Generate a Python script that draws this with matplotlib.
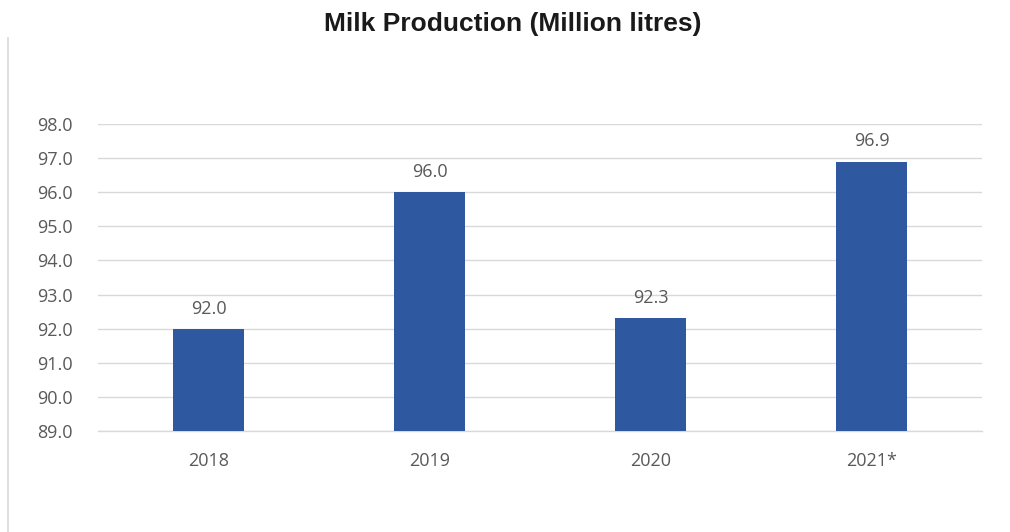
import matplotlib
matplotlib.use("Agg")
import matplotlib.pyplot as plt
from matplotlib.lines import Line2D

years = ["2018", "2019", "2020", "2021*"]
production = [92.0, 96.0, 92.3, 96.9]
y_ticks = [89.0, 90.0, 91.0, 92.0, 93.0, 94.0, 95.0, 96.0, 97.0, 98.0]

bar_color = "#2E59A1"
text_gray = "#595959"
grid_gray = "#D9D9D9"
label_font = "Open Sans"
label_size = 13

fig = plt.figure(figsize=(10.1, 5.32), dpi=100)
ax = fig.add_axes([98 / 1010, 1 - 431 / 532, 884 / 1010, 307 / 532])

x = list(range(len(years)))
ax.bar(x, production, width=0.317, color=bar_color, zorder=3)
ax.set_xlim(-0.5, len(years) - 0.5)
ax.set_ylim(y_ticks[0], y_ticks[-1])
ax.set_yticks(y_ticks)
ax.set_yticklabels([f"{v:.1f}" for v in y_ticks])
ax.set_xticks(x)
ax.set_xticklabels(years)

for xi, v in zip(x, production):
    ax.annotate(f"{v:.1f}", (xi, v), xytext=(0, 8), textcoords="offset points",
                ha="center", va="bottom", fontsize=label_size, color=text_gray,
                family=label_font)

ax.grid(axis="y", color=grid_gray, linewidth=1.0, zorder=0)
for s in ("top", "right", "left"):
    ax.spines[s].set_visible(False)
ax.spines["bottom"].set_color(grid_gray)
ax.spines["bottom"].set_linewidth(1.0)
ax.tick_params(length=0, labelsize=label_size, colors=text_gray)
ax.tick_params(axis="y", pad=18)
ax.tick_params(axis="x", pad=15)
for lbl in ax.get_xticklabels() + ax.get_yticklabels():
    lbl.set_family(label_font)

fig.text(0.508, 1 - 24 / 532, "Milk Production (Million litres)",
         ha="center", va="center", fontsize=19, fontweight="bold",
         family=["Liberation Sans", "DejaVu Sans"], color="#1a1a1a")

# thin frame edge along the left side
fig.add_artist(Line2D([8 / 1010, 8 / 1010], [0, 1 - 38 / 532],
                      transform=fig.transFigure, color=grid_gray, linewidth=1.2))

fig.savefig("out.png", dpi=100)
